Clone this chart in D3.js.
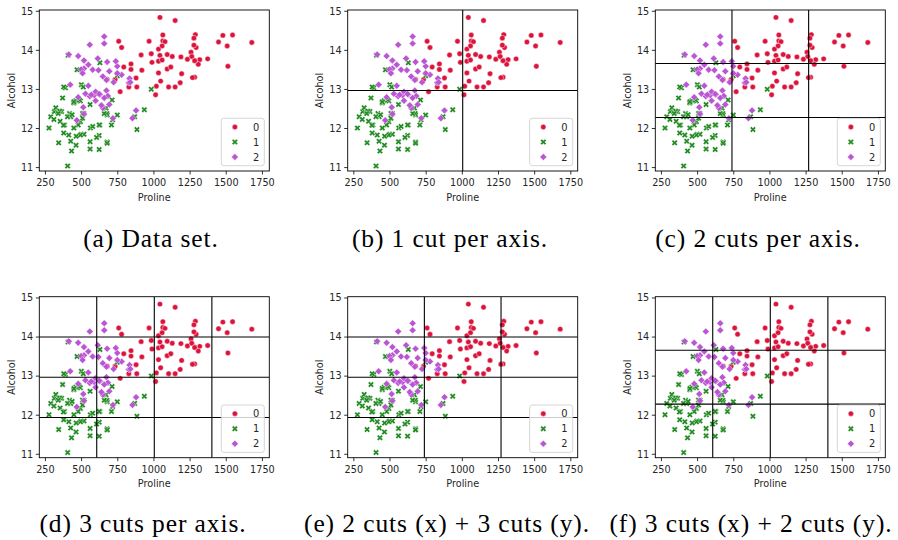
<!DOCTYPE html>
<html><head><meta charset="utf-8">
<script src="https://cdn.jsdelivr.net/npm/d3@7"></script>
<style>body{margin:0;background:#fff}svg{display:block}</style>
</head><body>
<svg id="chart" width="898" height="540"></svg>
<script>
// ---- data (Wine data set: Proline vs Alcohol, by class) ----
const class0Proline = [1065,1050,1185,1480,735,1450,1290,1295,1045,1045,1510,1280,1320,1150,1547,1310,1280,1130,1680,845,780,770,1035,1015,845,830,1195,1285,915,1035,1285,1515,990,1235,1095,920,880,1105,1020,760,795,1035,1095,680,885,1080,1065,985,1060,1260,1150,1265,1190,1375,1060,1120,970,1270,1285];
const class0Alcohol = [14.23,13.2,13.16,14.37,13.24,14.2,14.39,14.06,14.83,13.86,14.1,14.12,13.75,14.75,14.38,13.63,14.3,13.83,14.19,13.64,14.06,12.93,13.71,12.85,13.5,13.05,13.39,13.3,13.87,14.02,13.73,13.58,13.68,13.76,13.51,13.48,13.28,13.05,13.07,14.22,13.56,13.41,13.88,13.24,13.05,14.21,14.38,13.9,14.1,13.94,13.05,13.83,13.82,13.77,13.74,13.56,14.22,13.29,13.72];
const class1Proline = [520,680,450,630,420,355,678,502,510,750,718,870,410,472,985,886,428,392,500,750,463,278,714,630,515,520,450,495,562,680,625,480,450,495,290,345,937,625,428,660,406,710,562,438,415,672,315,510,488,312,680,562,325,607,434,385,407,495,345,372,564,625,465,365,380,380,378,352,466,342,580];
const class1Alcohol = [12.37,12.33,12.64,13.67,12.37,12.17,12.37,13.11,12.37,13.34,12.21,12.29,13.86,13.49,12.99,11.96,11.66,13.03,11.84,12.33,12.7,12.0,12.72,12.08,13.05,11.84,12.67,12.16,11.65,11.64,12.08,12.08,12.0,12.69,12.29,11.62,12.47,11.81,12.29,12.37,12.29,12.08,12.6,12.34,11.82,12.51,12.42,12.25,12.72,12.22,11.61,11.46,12.52,11.76,11.41,12.08,11.03,11.82,12.42,12.77,12.0,11.45,11.56,12.42,13.05,11.87,12.07,12.43,11.79,12.37,12.04];
const class2Proline = [630,530,560,600,650,695,720,515,580,590,600,780,520,550,855,830,415,625,650,550,500,480,425,675,640,725,480,880,660,620,520,680,570,675,615,520,695,685,750,510,470,660,660,740,750,835,840,560];
const class2Alcohol = [12.86,12.88,12.81,12.7,12.51,12.6,12.25,12.53,13.49,12.84,12.93,13.36,13.52,13.62,12.25,13.16,13.88,12.87,13.32,13.08,13.5,12.79,13.11,13.23,12.58,13.17,13.84,12.45,14.34,13.48,12.36,13.69,12.85,12.96,13.78,13.73,13.45,12.82,13.58,13.4,12.2,12.77,14.16,13.71,13.4,13.27,13.17,14.13];
const classLabels = ["0","1","2"];
const xTicks = [250,500,750,1000,1250,1500,1750];
const yTicks = [11,12,13,14,15];
const xDomain = [211,1801];
const yDomain = [10.90,15.02];
// cut positions
const xCuts1 = [1006];
const xCuts2 = [741,1271];
const xCuts3 = [608,1006,1404];
const yCuts1 = [12.96];
const yCuts2 = [12.27,13.65];
const yCuts3 = [11.93,12.96,13.99];
const captions = ["(a) Data set.","(b) 1 cut per axis.","(c) 2 cuts per axis.","(d) 3 cuts per axis.","(e) 2 cuts (x) + 3 cuts (y).","(f) 3 cuts (x) + 2 cuts (y)."];
const panelXCuts = [[],xCuts1,xCuts2,xCuts3,xCuts2,xCuts3];
const panelYCuts = [[],yCuts1,yCuts2,yCuts3,yCuts3,yCuts2];

// ---- layout ----
const colors = ["#dc143c","#228b22","#ba55d3"];
const colLeft = [39.3,347.7,655.3];
const rowTop = [10,296.7];
const W = 230, H = 161;
const capCenter = [[151,450,758],[143,447,751]];
const capBase = [247,532];
const tickFont = "DejaVu Sans, sans-serif";

const classes = [
  {x:class0Proline,y:class0Alcohol},
  {x:class1Proline,y:class1Alcohol},
  {x:class2Proline,y:class2Alcohol}
];

const svg = d3.select("#chart");

const xPoly = [[-1,-2],[0,-1],[1,-2],[2,-1],[1,0],[2,1],[1,2],[0,1],[-1,2],[-2,1],[-1,0],[-2,-1]];
function markerPath(c){
  if(c===0){ const r=2.7; return d3.arc()({innerRadius:0,outerRadius:r,startAngle:0,endAngle:2*Math.PI}); }
  if(c===1){ const s=1.5; return "M"+xPoly.map(p=>[p[0]*s,p[1]*s].join(",")).join("L")+"Z"; }
  const d=3.5; return `M0,${-d}L${d},0L0,${d}L${-d},0Z`;
}

for(let p=0;p<6;p++){
  const col=p%3,row=Math.floor(p/3);
  const L=colLeft[col],T=rowTop[row];
  const x=d3.scaleLinear().domain(xDomain).range([L,L+W]);
  const y=d3.scaleLinear().domain(yDomain).range([T+H,T]);
  const g=svg.append("g");
  const clipId="clip"+p;
  svg.append("clipPath").attr("id",clipId).append("rect").attr("x",L).attr("y",T).attr("width",W).attr("height",H);

  const pts=g.append("g").attr("clip-path",`url(#${clipId})`);
  classes.forEach((cl,ci)=>{
    pts.append("g").selectAll("path").data(cl.x.map((v,i)=>[v,cl.y[i]])).join("path")
      .attr("d",markerPath(ci))
      .attr("transform",d=>`translate(${x(d[0])},${y(d[1])})`)
      .attr("fill",colors[ci]).attr("stroke","#fff").attr("stroke-width",0.45);
  });

  // cut lines
  const cg=g.append("g").attr("clip-path",`url(#${clipId})`);
  cg.selectAll("line.vx").data(panelXCuts[p]).join("line").attr("class","vx")
    .attr("x1",d=>x(d)).attr("x2",d=>x(d)).attr("y1",T).attr("y2",T+H)
    .attr("stroke","#000").attr("stroke-width",1.1);
  cg.selectAll("line.hy").data(panelYCuts[p]).join("line").attr("class","hy")
    .attr("y1",d=>y(d)).attr("y2",d=>y(d)).attr("x1",L).attr("x2",L+W)
    .attr("stroke","#000").attr("stroke-width",1.1);

  // axes
  const xa=g.append("g").attr("transform",`translate(0,${T+H})`)
    .call(d3.axisBottom(x).tickValues(xTicks).tickSize(3.5).tickPadding(5).tickFormat(d3.format("d")));
  const ya=g.append("g").attr("transform",`translate(${L},0)`)
    .call(d3.axisLeft(y).tickValues(yTicks).tickSize(3.5).tickPadding(2.6).tickFormat(d3.format("d")));
  [xa,ya].forEach(a=>{
    a.select(".domain").remove();
    a.selectAll("line").attr("stroke","#000").attr("stroke-width",0.8);
    a.selectAll("text").attr("font-family",tickFont).attr("font-size",9.7).attr("fill","#262626");
  });
  ya.selectAll("text").attr("dy","0.34em");

  // frame
  g.append("rect").attr("x",L).attr("y",T).attr("width",W).attr("height",H)
    .attr("fill","none").attr("stroke","#000").attr("stroke-width",0.9);

  // axis labels
  g.append("text").attr("x",L+W/2).attr("y",T+H+29.5).attr("text-anchor","middle")
    .attr("font-family",tickFont).attr("font-size",9.7).attr("fill","#262626").text("Proline");
  g.append("text").attr("transform",`translate(${L-24.8},${T+H/2}) rotate(-90)`).attr("text-anchor","middle")
    .attr("font-family",tickFont).attr("font-size",9.7).attr("fill","#262626").text("Alcohol");

  // legend
  const lw=43,lh=47.4;
  const lx=L+W-5-lw, ly=T+H-5.3-lh;
  const lg=g.append("g");
  lg.append("rect").attr("x",lx).attr("y",ly).attr("width",lw).attr("height",lh).attr("rx",2.5)
    .attr("fill","#fff").attr("fill-opacity",0.8).attr("stroke","#cccccc").attr("stroke-width",0.8);
  classLabels.forEach((lab,i)=>{
    const yy=ly+8.7+15*i;
    lg.append("path").attr("d",markerPath(i)).attr("transform",`translate(${lx+13.6},${yy})`)
      .attr("fill",colors[i]).attr("stroke","#fff").attr("stroke-width",0.45);
    lg.append("text").attr("x",lx+31.6).attr("y",yy).attr("dy","0.36em")
      .attr("font-family",tickFont).attr("font-size",9.9).attr("fill","#262626").text(lab);
  });

  // caption
  svg.append("text").attr("x",capCenter[row][col]).attr("y",capBase[row]).attr("text-anchor","middle")
    .attr("font-family","Liberation Serif, serif").attr("font-size",25.5).attr("letter-spacing",0.9).attr("fill","#000")
    .text(captions[p]);
}
</script>
</body></html>
